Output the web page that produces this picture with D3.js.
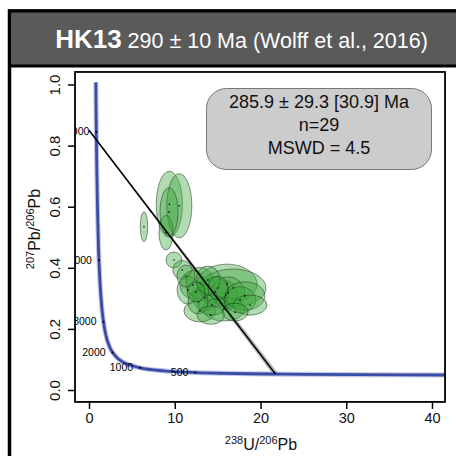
<!DOCTYPE html>
<html>
<head>
<meta charset="utf-8">
<script src="https://cdn.jsdelivr.net/npm/d3@7"></script>
<style>
  body { margin: 0; background: #fff; }
  svg { display: block; font-family: "Liberation Sans", Arial, Helvetica, sans-serif; }
</style>
</head>
<body>
<script>
// concordia curve (238U/206Pb, 207Pb/206Pb)
const concX = [42.5, 31.7, 25.3, 21.0, 15.6, 12.4, 8.72, 5.96, 3.82, 2.75, 2.11, 1.69, 1.39, 1.16, 0.99, 0.853, 0.795];
const concY = [0.049, 0.0501, 0.0512, 0.0523, 0.0547, 0.0572, 0.0628, 0.0725, 0.0936, 0.123, 0.164, 0.223, 0.306, 0.425, 0.597, 0.845, 1.007];

// age marks on the concordia
const ageLabels = ['500', '1000', '2000', '3000', '4000', '5000'];
const ageX = [12.4, 5.96, 2.75, 1.69, 1.16, 0.853];
const ageY = [0.0572, 0.0725, 0.123, 0.223, 0.425, 0.845];

// discordia regression line and its envelope
const lineX = [0, 21.75];
const lineY = [0.85, 0.052];
const envX = [0, 22.15, 21.4, 0];
const envY = [0.851, 0.0515, 0.0525, 0.849];

// ellipses: centre and semi-axes
const ellX  = [9.37, 10.53, 8.98, 9.33, 6.41, 9.91, 10.88, 12.13, 11.55, 12.94, 16.09, 16.79, 15.98, 16.21, 14.69, 13.53, 12.94, 15.74, 14.34, 17.61, 18.19, 12.71, 11.31, 13.88, 18.78, 17.03, 15.04, 12.48, 14.2];
const ellY  = [0.608, 0.603, 0.515, 0.583, 0.5345, 0.4255, 0.393, 0.344, 0.327, 0.350, 0.347, 0.334, 0.311, 0.318, 0.321, 0.301, 0.259, 0.265, 0.278, 0.295, 0.308, 0.288, 0.373, 0.360, 0.278, 0.255, 0.334, 0.321, 0.245];
const ellSX = [1.52, 1.46, 0.82, 1.05, 0.43, 0.93, 1.1, 1.52, 1.28, 1.63, 3.50, 3.85, 1.28, 1.98, 1.63, 1.40, 1.87, 2.45, 1.63, 1.87, 2.33, 1.17, 1.05, 1.40, 1.98, 1.52, 1.17, 1.05, 1.6];
const ellSY = [0.108, 0.105, 0.057, 0.079, 0.049, 0.026, 0.031, 0.046, 0.046, 0.052, 0.065, 0.062, 0.046, 0.052, 0.049, 0.043, 0.036, 0.039, 0.033, 0.043, 0.046, 0.039, 0.036, 0.046, 0.033, 0.029, 0.039, 0.033, 0.03];

const xTicks = [0, 10, 20, 30, 40];
const yTicks = [0, 0.2, 0.4, 0.6, 0.8, 1.0];
const xLim = [-1.63, 41.52];
const yLim = [-0.039, 1.041];

const legendLines = ['285.9 ± 29.3 [30.9] Ma', 'n=29', 'MSWD = 4.5'];

const width = 456, height = 456;

const svg = d3.select('body').append('svg')
    .attr('width', width)
    .attr('height', height);

// frame + title bar
svg.append('rect')
    .attr('x', 9.5).attr('y', 11)
    .attr('width', 470).attr('height', 460)
    .attr('fill', '#fff')
    .attr('stroke', '#000')
    .attr('stroke-width', 3.5);
svg.append('rect')
    .attr('x', 9.5).attr('y', 11)
    .attr('width', 470).attr('height', 55)
    .attr('fill', '#5a5a5a')
    .attr('stroke', '#000')
    .attr('stroke-width', 3);

const title = svg.append('text')
    .attr('x', 241.5).attr('y', 47.5)
    .attr('text-anchor', 'middle')
    .attr('fill', '#fff');
title.append('tspan').attr('font-weight', 'bold').attr('font-size', 26).text('HK13');
title.append('tspan').attr('font-size', 21.5).text(' 290 ± 10 Ma (Wolff et al., 2016)');

// scales
const x = d3.scaleLinear().domain([0, 40]).range([89, 432]);
const y = d3.scaleLinear().domain([0, 1]).range([390, 84.5]);

const px0 = x(xLim[0]), px1 = x(xLim[1]);
const py0 = y(yLim[1]), py1 = y(yLim[0]);

svg.append('clipPath').attr('id', 'clip')
  .append('rect')
    .attr('x', px0).attr('y', py0)
    .attr('width', px1 - px0).attr('height', py1 - py0);

const plot = svg.append('g').attr('clip-path', 'url(#clip)');

// discordia envelope
plot.append('path')
    .attr('d', d3.line()(envX.map((v, i) => [x(v), y(envY[i])])) + 'Z')
    .attr('fill', 'rgba(120,120,120,0.55)');

// concordia
const concLine = d3.line().curve(d3.curveCatmullRom);
plot.append('path')
    .attr('d', concLine(concX.map((v, i) => [x(v), y(concY[i])])))
    .attr('fill', 'none')
    .attr('stroke', 'rgba(150,160,210,0.6)')
    .attr('stroke-width', 5);
plot.append('path')
    .attr('d', concLine(concX.map((v, i) => [x(v), y(concY[i])])))
    .attr('fill', 'none')
    .attr('stroke', '#3a4ca6')
    .attr('stroke-width', 2.8);

// age marks
plot.selectAll('.age-dot')
    .data(ageLabels)
    .enter()
  .append('circle')
    .attr('cx', (d, i) => x(ageX[i]))
    .attr('cy', (d, i) => y(ageY[i]))
    .attr('r', 1)
    .attr('fill', '#000');
plot.selectAll('.age-label')
    .data(ageLabels)
    .enter()
  .append('text')
    .attr('x', (d, i) => x(ageX[i]) - 7)
    .attr('y', (d, i) => y(ageY[i]) + 3.5)
    .attr('text-anchor', 'end')
    .attr('font-size', 10.5)
    .attr('fill', '#000')
    .text(d => d);

// ellipses
plot.selectAll('.ell')
    .data(ellX)
    .enter()
  .append('ellipse')
    .attr('class', 'ell')
    .attr('cx', (d, i) => x(d))
    .attr('cy', (d, i) => y(ellY[i]))
    .attr('rx', (d, i) => x(d + ellSX[i]) - x(d))
    .attr('ry', (d, i) => y(ellY[i]) - y(ellY[i] + ellSY[i]))
    .attr('fill', 'rgb(60,165,60)')
    .attr('fill-opacity', 0.4)
    .attr('stroke', 'rgba(30,50,30,0.65)')
    .attr('stroke-width', 0.8);
plot.selectAll('.ell-dot')
    .data(ellX)
    .enter()
  .append('circle')
    .attr('cx', (d, i) => x(d))
    .attr('cy', (d, i) => y(ellY[i]))
    .attr('r', 0.8)
    .attr('fill', '#000');

// regression line
plot.append('line')
    .attr('x1', x(lineX[0])).attr('y1', y(lineY[0]))
    .attr('x2', x(lineX[1])).attr('y2', y(lineY[1]))
    .attr('stroke', '#000')
    .attr('stroke-width', 1.6);

// box
svg.append('rect')
    .attr('x', px0).attr('y', py0)
    .attr('width', px1 - px0).attr('height', py1 - py0)
    .attr('fill', 'none')
    .attr('stroke', '#000')
    .attr('stroke-width', 1.8);

// axes, R style
const xAxis = svg.append('g')
    .attr('transform', `translate(0, ${py1})`)
    .call(d3.axisBottom(x).tickValues(xTicks).tickSize(7).tickPadding(4).tickFormat(d3.format('d')));
xAxis.select('.domain').remove();
xAxis.selectAll('line').attr('stroke-width', 1.5);
xAxis.selectAll('text').attr('font-size', 14.5).attr('font-family', null).attr('fill', '#111');

const yAxis = svg.append('g')
    .attr('transform', `translate(${px0}, 0)`)
    .call(d3.axisLeft(y).tickValues(yTicks).tickSize(7).tickFormat(d3.format('.1f')));
yAxis.select('.domain').remove();
yAxis.selectAll('line').attr('stroke-width', 1.5);
yAxis.selectAll('text')
    .attr('font-size', 15)
    .attr('font-family', null)
    .attr('fill', '#111')
    .attr('x', null).attr('dy', null)
    .attr('text-anchor', 'middle')
    .attr('transform', `translate(${60 - px0}, 0) rotate(-90)`);

// axis titles
const xt = svg.append('text')
    .attr('x', 261).attr('y', 450)
    .attr('text-anchor', 'middle')
    .attr('font-size', 16)
    .attr('fill', '#111');
xt.append('tspan').attr('font-size', 11).attr('dy', -6).text('238');
xt.append('tspan').attr('dy', 6).text('U/');
xt.append('tspan').attr('font-size', 11).attr('dy', -6).text('206');
xt.append('tspan').attr('dy', 6).text('Pb');

const yt = svg.append('text')
    .attr('transform', 'translate(40, 229) rotate(-90)')
    .attr('text-anchor', 'middle')
    .attr('font-size', 16)
    .attr('fill', '#111');
yt.append('tspan').attr('font-size', 11).attr('dy', -6).text('207');
yt.append('tspan').attr('dy', 6).text('Pb/');
yt.append('tspan').attr('font-size', 11).attr('dy', -6).text('206');
yt.append('tspan').attr('dy', 6).text('Pb');

// legend box
svg.append('rect')
    .attr('x', 206.5).attr('y', 88.5)
    .attr('width', 225).attr('height', 81)
    .attr('rx', 20).attr('ry', 20)
    .attr('fill', '#cccccc')
    .attr('stroke', '#777')
    .attr('stroke-width', 1);
svg.selectAll('.legend-text')
    .data(legendLines)
    .enter()
  .append('text')
    .attr('x', 319)
    .attr('y', (d, i) => 108 + i * 23)
    .attr('text-anchor', 'middle')
    .attr('font-size', 18)
    .attr('fill', '#111')
    .text(d => d);
</script>
</body>
</html>
